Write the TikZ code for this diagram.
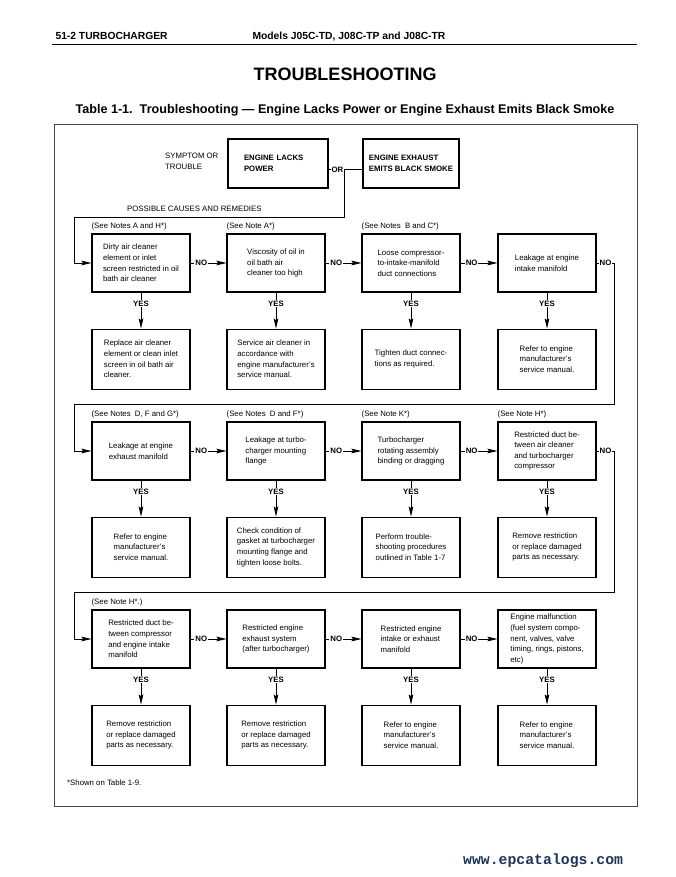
\documentclass[tikz,border=0pt]{standalone}
\usepackage{fontspec}
\setmainfont{Liberation Sans}
\setmonofont{Liberation Mono}
\usepackage{xcolor}
\usepackage{tikz}
\usetikzlibrary{arrows.meta,positioning,calc}
\definecolor{framegray}{RGB}{70,70,70}
\definecolor{sitenavy}{RGB}{28,52,88}
\newcommand{\chartfont}{\fontsize{7.8}{10.6}\selectfont}

\begin{document}
\begin{tikzpicture}[
	x=1pt, y=-1pt,
	node distance=36pt,
	>={Stealth[length=10pt,width=4.6pt,inset=1.5pt]},
	cause/.style={
		rectangle,
		draw,
		line width=1.1pt,
		minimum width=98pt,
		minimum height=58pt,
		inner sep=2pt,
		align=left,
		font=\chartfont
	},
	remedy/.style={cause, minimum height=60pt},
	symptom/.style={cause, minimum height=49pt, font=\chartfont\bfseries},
	flow/.style={
		draw,
		->,
		line width=0.8pt
	},
	link/.style={draw, line width=0.8pt},
	answer/.style={fill=white, inner sep=1pt, font=\chartfont\bfseries},
	note/.style={inner sep=0pt, font=\chartfont}
	]
	\useasboundingbox (0,0) rectangle (675,877);
	
	% Page header
	\node[anchor=base west, font=\fontsize{10.3}{12}\selectfont\bfseries] (section) at (52,40) {51-2 TURBOCHARGER};
	\node[anchor=base west, font=\fontsize{10.3}{12}\selectfont\bfseries] (models) at (249,40) {Models J05C-TD, J08C-TP and J08C-TR};
	\draw[line width=1pt] (52,45) -- (637,45);
	
	% Titles
	\node[font=\fontsize{18}{20}\selectfont\bfseries] (title) at (345,74) {TROUBLESHOOTING};
	\node[font=\fontsize{12.6}{14}\selectfont\bfseries] (caption) at (345,110) {Table 1-1.\ \ Troubleshooting — Engine Lacks Power or Engine Exhaust Emits Black Smoke};
	
	% Table frame
	\draw[framegray, line width=0.9pt] (54,124) rectangle (637,806);
	
	% Symptom
	\node[note, align=left, anchor=west] (symlbl) at (165,161.5) {SYMPTOM OR\\TROUBLE};
	\node[symptom, minimum width=100pt, text width=68pt] (lacks) at (278,163.5) {ENGINE LACKS\\POWER};
	\node[symptom, minimum width=96pt] (smoke) at (411,163.5) {ENGINE EXHAUST\\EMITS BLACK SMOKE};
	\path[link] (lacks.-7) -- node[answer, pos=0.26] (orlbl) {OR} (lacks.-7 -| smoke.west);
	\node[note, anchor=west] (causes) at (127,209) {POSSIBLE CAUSES AND REMEDIES};
	
	% Entry points of the three rows
	\coordinate (in1) at (74,217);
	\coordinate (in2) at (74,404);
	\coordinate (in3) at (74,592);
	
	% Row 1 causes
	\node[cause] (aircln) at (141,263) {Dirty air cleaner\\element or inlet\\screen restricted in oil\\bath air cleaner};
	\node[cause] (oilvisc) at (276,263) {Viscosity of oil in\\oil bath air\\cleaner too high};
	\node[cause] (ductloose) at (411,263) {Loose compressor-\\to-intake-manifold\\duct connections};
	\node[cause] (intake) at (547,263) {Leakage at engine\\intake manifold};
	\node[note, above=3pt of aircln.north west, anchor=south west] (aircln-note) {(See Notes A and H*)};
	\node[note, above=3pt of oilvisc.north west, anchor=south west] (oilvisc-note) {(See Note A*)};
	\node[note, above=3pt of ductloose.north west, anchor=south west] (ductloose-note) {(See Notes~~B and C*)};
	
	% Row 1 remedies
	\node[remedy, below=of aircln] (aircln-fix) {Replace air cleaner\\element or clean inlet\\screen in oil bath air\\cleaner.};
	\node[remedy, below=of oilvisc] (oilvisc-fix) {Service air cleaner in\\accordance with\\engine manufacturer's\\service manual.};
	\node[remedy, below=of ductloose] (ductloose-fix) {Tighten duct connec-\\tions as required.};
	\node[remedy, below=of intake] (intake-fix) {Refer to engine\\manufacturer's\\service manual.};
	
	% Row 2 causes
	\node[cause] (exhaust) at (141,451) {Leakage at engine\\exhaust manifold};
	\node[cause] (flange) at (276,451) {Leakage at turbo-\\charger mounting\\flange};
	\node[cause] (rotor) at (411,451) {Turbocharger\\rotating assembly\\binding or dragging};
	\node[cause] (ductair) at (547,451) {Restricted duct be-\\tween air cleaner\\and turbocharger\\compressor};
	\node[note, above=3pt of exhaust.north west, anchor=south west] (exhaust-note) {(See Notes~~D, F and G*)};
	\node[note, above=3pt of flange.north west, anchor=south west] (flange-note) {(See Notes~~D and F*)};
	\node[note, above=3pt of rotor.north west, anchor=south west] (rotor-note) {(See Note K*)};
	\node[note, above=3pt of ductair.north west, anchor=south west] (ductair-note) {(See Note H*)};
	
	% Row 2 remedies
	\node[remedy, below=of exhaust] (exhaust-fix) {Refer to engine\\manufacturer's\\service manual.};
	\node[remedy, below=of flange] (flange-fix) {Check condition of\\gasket at turbocharger\\mounting flange and\\tighten loose bolts.};
	\node[remedy, below=of rotor] (rotor-fix) {Perform trouble-\\shooting procedures\\outlined in Table 1-7};
	\node[remedy, below=of ductair] (ductair-fix) {Remove restriction\\or replace damaged\\parts as necessary.};
	
	% Row 3 causes
	\node[cause] (ductcomp) at (141,639) {Restricted duct be-\\tween compressor\\and engine intake\\manifold};
	\node[cause] (exhsys) at (276,639) {Restricted engine\\exhaust system\\(after turbocharger)};
	\node[cause] (manif) at (411,639) {Restricted engine\\intake or exhaust\\manifold};
	\node[cause] (engine) at (547,639) {Engine malfunction\\(fuel system compo-\\nent, valves, valve\\timing, rings, pistons,\\etc)};
	\node[note, above=3pt of ductcomp.north west, anchor=south west] (ductcomp-note) {(See Note H*.)};
	
	% Row 3 remedies
	\node[remedy, below=of ductcomp] (ductcomp-fix) {Remove restriction\\or replace damaged\\parts as necessary.};
	\node[remedy, below=of exhsys] (exhsys-fix) {Remove restriction\\or replace damaged\\parts as necessary.};
	\node[remedy, below=of manif] (manif-fix) {Refer to engine\\manufacturer's\\service manual.};
	\node[remedy, below=of engine] (engine-fix) {Refer to engine\\manufacturer's\\service manual.};
	
	% Row connections
	\path[flow] (orlbl.east) |- (in1) |- (aircln.west);
	\path[flow] (intake.east) -- node[answer] {NO} ++(18,0) |- (in2) |- (exhaust.west);
	\path[flow] (ductair.east) -- node[answer] {NO} ++(18,0) |- (in3) |- (ductcomp.west);
	
	% NO arrows
	\path[flow] (aircln) -- node[answer, pos=0.3] {NO} (oilvisc);
	\path[flow] (oilvisc) -- node[answer, pos=0.3] {NO} (ductloose);
	\path[flow] (ductloose) -- node[answer, pos=0.3] {NO} (intake);
	\path[flow] (exhaust) -- node[answer, pos=0.3] {NO} (flange);
	\path[flow] (flange) -- node[answer, pos=0.3] {NO} (rotor);
	\path[flow] (rotor) -- node[answer, pos=0.3] {NO} (ductair);
	\path[flow] (ductcomp) -- node[answer, pos=0.3] {NO} (exhsys);
	\path[flow] (exhsys) -- node[answer, pos=0.3] {NO} (manif);
	\path[flow] (manif) -- node[answer, pos=0.3] {NO} (engine);
	
	% YES arrows
	\path[flow] (aircln) -- node[answer, pos=0.3] {YES} (aircln-fix);
	\path[flow] (oilvisc) -- node[answer, pos=0.3] {YES} (oilvisc-fix);
	\path[flow] (ductloose) -- node[answer, pos=0.3] {YES} (ductloose-fix);
	\path[flow] (intake) -- node[answer, pos=0.3] {YES} (intake-fix);
	\path[flow] (exhaust) -- node[answer, pos=0.3] {YES} (exhaust-fix);
	\path[flow] (flange) -- node[answer, pos=0.3] {YES} (flange-fix);
	\path[flow] (rotor) -- node[answer, pos=0.3] {YES} (rotor-fix);
	\path[flow] (ductair) -- node[answer, pos=0.3] {YES} (ductair-fix);
	\path[flow] (ductcomp) -- node[answer, pos=0.3] {YES} (ductcomp-fix);
	\path[flow] (exhsys) -- node[answer, pos=0.3] {YES} (exhsys-fix);
	\path[flow] (manif) -- node[answer, pos=0.3] {YES} (manif-fix);
	\path[flow] (engine) -- node[answer, pos=0.3] {YES} (engine-fix);
	
	% Footnote
	\node[note, anchor=west] (footnote) at (67,783) {*Shown on Table 1-9.};
	
	% Web address
	\node[anchor=west, inner sep=0pt, text=sitenavy, font=\fontsize{14.8}{16}\selectfont\ttfamily\bfseries] (site) at (463,861) {www.epcatalogs.com};
	
\end{tikzpicture}
\end{document}
